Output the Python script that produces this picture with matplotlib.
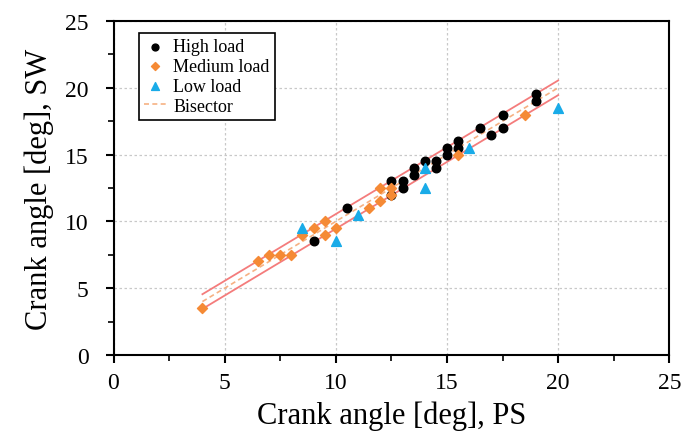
import numpy as np
import matplotlib.pyplot as plt
from matplotlib.ticker import MultipleLocator

DPI = 100
plt.rcParams['font.family'] = ['Liberation Serif', 'DejaVu Serif']

# crank angle [deg]: PS (x) vs SW (y)
high_x = [9, 10.5, 12.5, 12.5, 13, 13, 13.5, 13.5, 14, 14.5, 14.5, 15, 15,
          15.5, 15.5, 16.5, 17, 17.5, 17.5, 19, 19]
high_y = [8.5, 11, 13, 12, 13, 12.5, 14, 13.5, 14.5, 14.5, 14, 15.5, 15,
          16, 15.5, 17, 16.5, 18, 17, 19.5, 19]

med_x = [4, 6.5, 7, 7.5, 8, 8.5, 9, 9.5, 9.5, 10, 11.5, 12, 12, 12.5, 12.5,
         15.5, 18.5]
med_y = [3.5, 7, 7.5, 7.5, 7.5, 9, 9.5, 10, 9, 9.5, 11, 12.5, 11.5, 12.5, 12,
         15, 18]

low_x = [8.5, 10, 11, 14, 14, 16, 20]
low_y = [9.5, 8.5, 10.5, 14, 12.5, 15.5, 18.5]

bis_x = np.array([4, 20])
band = 0.55

fig = plt.figure(figsize=(682/DPI, 439/DPI), dpi=DPI)
ax = fig.add_axes([113.5/682, 1 - 356/439, (669.3 - 113.5)/682, (356 - 22)/439])

ax.plot(bis_x, bis_x + band, color='#F47C7C', lw=1.3, zorder=2)
ax.plot(bis_x, bis_x - band, color='#F47C7C', lw=1.3, zorder=2)

ax.scatter(high_x, high_y, marker='o', s=38, color='black', zorder=3,
           label='High load')
ax.scatter(med_x, med_y, marker='D', s=26, color='#F58A35', zorder=4,
           label='Medium load')
ax.scatter(low_x, low_y, marker='^', s=50, color='#19ABE8', zorder=5,
           label='Low load')
ax.plot(bis_x, bis_x, color='#F6B183', lw=1.2, ls=(0, (3, 2)), zorder=2.5,
        label='Bisector')

ax.set_xlim(0, 25)
ax.set_ylim(0, 25)
ax.xaxis.set_major_locator(MultipleLocator(5))
ax.yaxis.set_major_locator(MultipleLocator(5))
ax.xaxis.set_minor_locator(MultipleLocator(2.5))
ax.yaxis.set_minor_locator(MultipleLocator(2.5))
ax.tick_params(which='major', direction='out', length=6, width=1.5,
               labelsize=17)
ax.tick_params(axis='x', which='major', pad=6)
ax.tick_params(axis='y', which='major', pad=12)
ax.tick_params(which='minor', direction='out', length=4, width=1.2)
ax.grid(True, which='major', color='#c8c8c8', ls=(0, (2, 2)), lw=0.9)
ax.set_axisbelow(True)
for sp in ax.spines.values():
    sp.set_linewidth(1.5)

ax.set_xlabel('Crank angle [deg], PS', fontsize=22, labelpad=6)
ax.set_ylabel('Crank angle [deg], SW', fontsize=22, labelpad=8)

leg = ax.legend(loc='upper left', bbox_to_anchor=(0.046, 0.964), fontsize=13,
                frameon=True, fancybox=False, edgecolor='black',
                borderaxespad=0, handlelength=1.2, handletextpad=0.4,
                borderpad=0.3, labelspacing=0.15, scatterpoints=1,
                markerscale=0.8)
leg.get_frame().set_linewidth(1.2)
leg.get_frame().set_alpha(1)

fig.savefig('out.png', dpi=DPI)
